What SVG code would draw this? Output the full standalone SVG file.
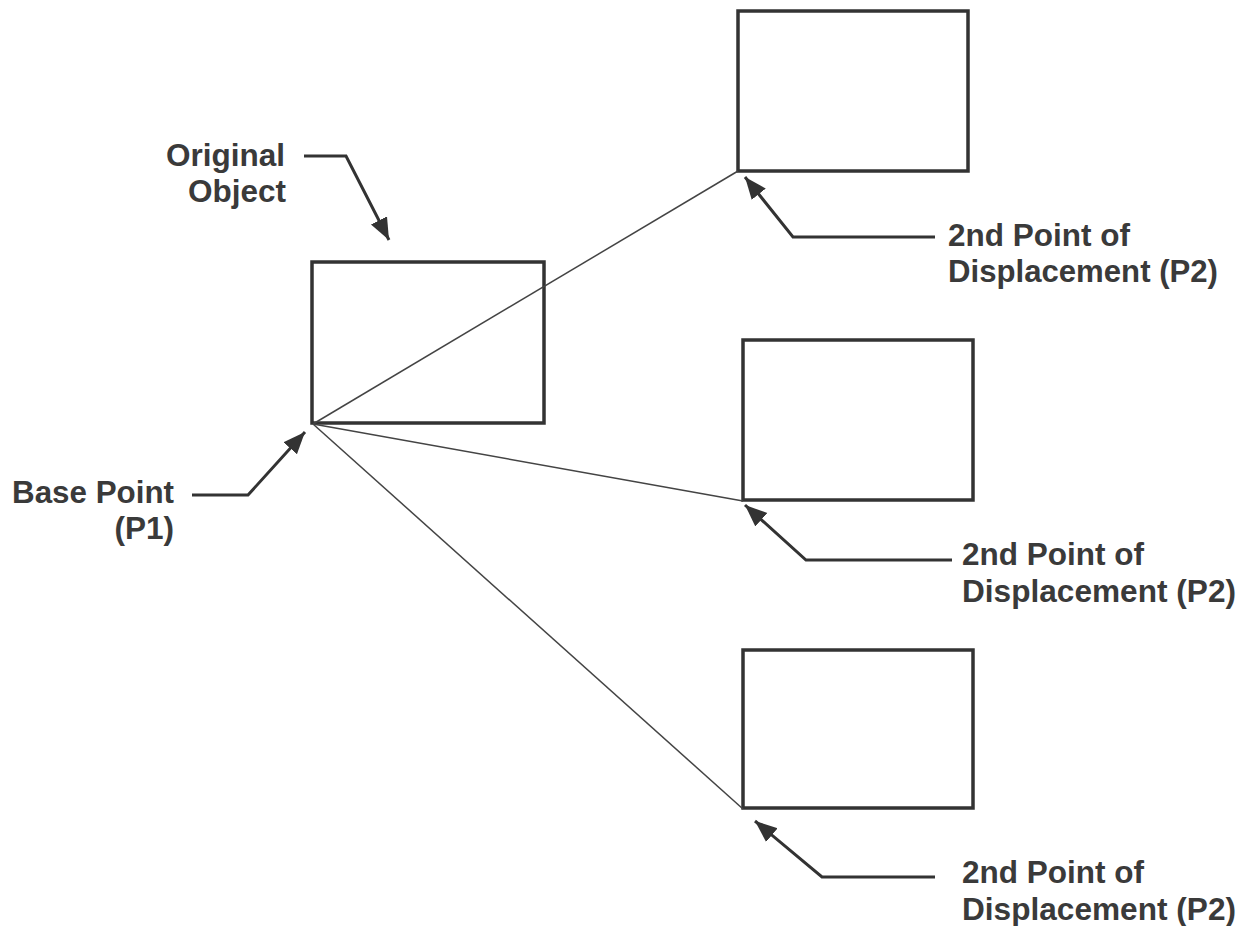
<svg xmlns="http://www.w3.org/2000/svg" width="1245" height="926" viewBox="0 0 1245 926">
<style>
.box{fill:none;stroke:#333;stroke-width:3.5}
.ray{fill:none;stroke:#444;stroke-width:1.5}
.lead{fill:none;stroke:#333;stroke-width:3}
.lbl{font-family:"Liberation Sans",Arial,sans-serif;font-weight:bold;font-size:31.5px;fill:#3a3a3a}
</style>
<defs>
<marker id="ah" markerUnits="userSpaceOnUse" markerWidth="26" markerHeight="20" refX="22" refY="9" orient="auto">
<path d="M0,0 L22,9 L0,18 Z" fill="#333"/>
</marker>
</defs>
<rect width="1245" height="926" fill="#fff"/>
<g id="original"><rect class="box" x="312" y="262" width="232" height="161"/></g>
<g id="copy1"><rect class="box" x="738" y="11" width="230" height="160"/></g>
<g id="copy2"><rect class="box" x="743" y="340" width="230" height="160"/></g>
<g id="copy3"><rect class="box" x="743" y="650" width="230" height="158"/></g>
<g id="connectors">
<line class="ray" x1="313" y1="424" x2="738" y2="171"/>
<line class="ray" x1="313" y1="424" x2="743" y2="501"/>
<line class="ray" x1="313" y1="424" x2="743" y2="809"/>
<polyline class="lead" points="304,156 346,156 389,240" marker-end="url(#ah)"/>
<polyline class="lead" points="192,495 248,495 305,432" marker-end="url(#ah)"/>
<polyline class="lead" points="935,237 793,237 745,177" marker-end="url(#ah)"/>
<polyline class="lead" points="952,560 806,560 745,505" marker-end="url(#ah)"/>
<polyline class="lead" points="935,877 822,877 755,821" marker-end="url(#ah)"/>
</g>
<g id="label-original">
<text class="lbl" x="285" y="166" text-anchor="end">Original</text>
<text class="lbl" x="286" y="202" text-anchor="end">Object</text>
</g>
<g id="label-base">
<text class="lbl" x="12" y="503" textLength="162" lengthAdjust="spacingAndGlyphs">Base Point</text>
<text class="lbl" x="174" y="539" text-anchor="end">(P1)</text>
</g>
<g id="label-p2a">
<text class="lbl" x="948" y="246">2nd Point of</text>
<text class="lbl" x="948" y="282" textLength="270" lengthAdjust="spacingAndGlyphs">Displacement (P2)</text>
</g>
<g id="label-p2b">
<text class="lbl" x="962" y="565">2nd Point of</text>
<text class="lbl" x="962" y="602" textLength="274" lengthAdjust="spacingAndGlyphs">Displacement (P2)</text>
</g>
<g id="label-p2c">
<text class="lbl" x="962" y="883">2nd Point of</text>
<text class="lbl" x="962" y="920" textLength="274" lengthAdjust="spacingAndGlyphs">Displacement (P2)</text>
</g>
</svg>
